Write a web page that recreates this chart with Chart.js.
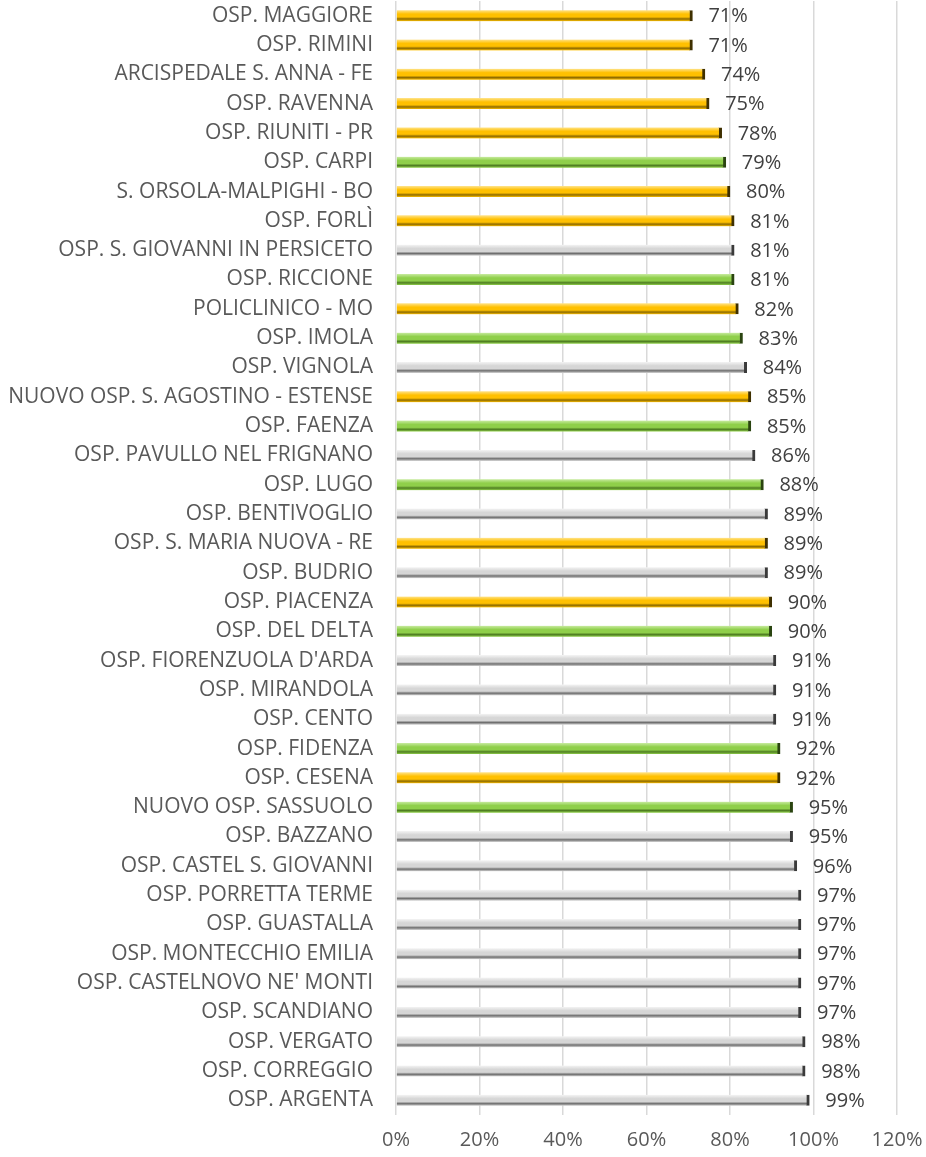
<!DOCTYPE html>
<html>
<head>
<meta charset="utf-8">
<script src="https://cdn.jsdelivr.net/npm/chart.js@4/dist/chart.umd.min.js"></script>
<style>
  html, body { margin: 0; padding: 0; background: #fff; }
  #wrap { position: relative; width: 926px; height: 1157px; }
</style>
</head>
<body>
<div id="wrap"><canvas id="chart"></canvas></div>
<script>
const ospedali = [
  'OSP. MAGGIORE', 'OSP. RIMINI', 'ARCISPEDALE S. ANNA - FE', 'OSP. RAVENNA', 'OSP. RIUNITI - PR',
  'OSP. CARPI', 'S. ORSOLA-MALPIGHI - BO', 'OSP. FORLÌ', 'OSP. S. GIOVANNI IN PERSICETO', 'OSP. RICCIONE',
  'POLICLINICO - MO', 'OSP. IMOLA', 'OSP. VIGNOLA', 'NUOVO OSP. S. AGOSTINO - ESTENSE', 'OSP. FAENZA',
  'OSP. PAVULLO NEL FRIGNANO', 'OSP. LUGO', 'OSP. BENTIVOGLIO', 'OSP. S. MARIA NUOVA - RE', 'OSP. BUDRIO',
  'OSP. PIACENZA', 'OSP. DEL DELTA', "OSP. FIORENZUOLA D'ARDA", 'OSP. MIRANDOLA', 'OSP. CENTO',
  'OSP. FIDENZA', 'OSP. CESENA', 'NUOVO OSP. SASSUOLO', 'OSP. BAZZANO', 'OSP. CASTEL S. GIOVANNI',
  'OSP. PORRETTA TERME', 'OSP. GUASTALLA', 'OSP. MONTECCHIO EMILIA', "OSP. CASTELNOVO NE' MONTI", 'OSP. SCANDIANO',
  'OSP. VERGATO', 'OSP. CORREGGIO', 'OSP. ARGENTA'
];

const percentuali = [
  71, 71, 74, 75, 78,
  79, 80, 81, 81, 81,
  82, 83, 84, 85, 85,
  86, 88, 89, 89, 89,
  90, 90, 91, 91, 91,
  92, 92, 95, 95, 96,
  97, 97, 97, 97, 97,
  98, 98, 99
];

// Y = giallo, G = verde, W = grigio
const gruppi = [
  'Y', 'Y', 'Y', 'Y', 'Y',
  'G', 'Y', 'Y', 'W', 'G',
  'Y', 'G', 'W', 'Y', 'G',
  'W', 'G', 'W', 'Y', 'W',
  'Y', 'G', 'W', 'W', 'W',
  'G', 'Y', 'G', 'W', 'W',
  'W', 'W', 'W', 'W', 'W',
  'W', 'W', 'W'
];

const xTicks = [0, 20, 40, 60, 80, 100, 120];

const palette = {
  Y: { light: '#FFE38A', mid: '#FFC000', dark: '#8C6A00', edge: '#3F3000' },
  G: { light: '#C8EBA0', mid: '#8FCF4A', dark: '#4F7D22', edge: '#2A4410' },
  W: { light: '#F4F4F4', mid: '#D6D6D6', dark: '#6E6E6E', edge: '#3A3A3A' }
};

const BAR_H = 11;

function barGradient(context) {
  const chart = context.chart;
  const col = palette[gruppi[context.dataIndex]] || palette.W;
  if (!chart.chartArea || !chart.scales.y) return col.mid;
  const yc = chart.scales.y.getPixelForValue(context.dataIndex);
  const g = chart.ctx.createLinearGradient(0, yc - BAR_H / 2, 0, yc + BAR_H / 2);
  g.addColorStop(0, col.light);
  g.addColorStop(0.35, col.mid);
  g.addColorStop(0.62, col.mid);
  g.addColorStop(0.8, col.dark);
  g.addColorStop(1, col.mid);
  return g;
}

const valueLabels = {
  id: 'valueLabels',
  afterDatasetsDraw(chart) {
    const ctx = chart.ctx;
    const meta = chart.getDatasetMeta(0);
    ctx.save();
    ctx.font = '20px "Open Sans"';
    ctx.fillStyle = '#404040';
    ctx.textAlign = 'left';
    ctx.textBaseline = 'middle';
    meta.data.forEach((bar, i) => {
      ctx.fillText(percentuali[i] + '%', bar.x + 16, bar.y + 1);
    });
    ctx.restore();
  }
};

const ctx = document.getElementById('chart').getContext('2d');
new Chart(ctx, {
  type: 'bar',
  data: {
    labels: ospedali,
    datasets: [{
      data: percentuali,
      backgroundColor: barGradient,
      borderColor: (c) => (palette[gruppi[c.dataIndex]] || palette.W).edge,
      borderWidth: { top: 0, bottom: 0, left: 0, right: 3 },
      borderSkipped: false,
      barThickness: BAR_H
    }]
  },
  options: {
    indexAxis: 'y',
    responsive: true,
    maintainAspectRatio: false,
    animation: false,
    layout: { padding: { top: 1, right: 29, bottom: 0, left: 0 } },
    plugins: {
      legend: { display: false },
      tooltip: { enabled: false }
    },
    scales: {
      x: {
        min: 0,
        max: 120,
        afterBuildTicks: (axis) => { axis.ticks = xTicks.map(v => ({ value: v })); },
        afterFit: (axis) => { axis.height = 42; axis.paddingLeft = 0; axis.paddingRight = 0; },
        grid: { color: '#D9D9D9', lineWidth: 1.5, drawTicks: false },
        border: { display: false },
        ticks: {
          padding: 13,
          color: '#595959',
          font: { family: 'Open Sans', size: 20 },
          callback: (v) => v + '%'
        }
      },
      y: {
        afterFit: (axis) => { axis.width = 396; axis.paddingTop = 0; axis.paddingBottom = 0; },
        grid: { display: false, drawTicks: false },
        border: { display: false },
        ticks: {
          padding: 23,
          color: '#595959',
          autoSkip: false,
          font: { family: 'Open Sans', size: 21 }
        }
      }
    }
  },
  plugins: [valueLabels]
});
</script>
</body>
</html>
